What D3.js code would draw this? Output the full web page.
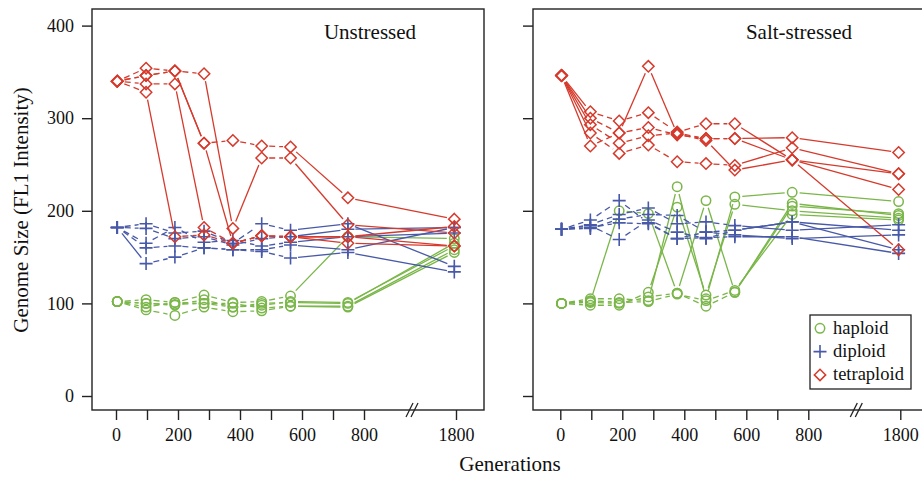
<!DOCTYPE html>
<html><head><meta charset="utf-8">
<script src="https://cdn.jsdelivr.net/npm/d3@7"></script>
<style>html,body{margin:0;padding:0;background:#fff;}svg{display:block;font-family:"Liberation Serif","Times New Roman",serif;}</style>
</head><body>
<svg id="chart" width="922" height="477"></svg>
<script>
const generations = [4, 97, 190, 284, 377, 470, 563, 748, 1775];
const xTickValues = [0, 100, 200, 300, 400, 500, 600, 700, 800, 1800];
const xTickLabels = ["0", "", "200", "", "400", "", "600", "", "800", "1800"];
const yTickValues = [0, 100, 200, 300, 400];
const panelTitles = ["Unstressed", "Salt-stressed"];
const legendLabels = ["haploid", "diploid", "tetraploid"];

// Unstressed
const unstressedHaploid = [
  [102, 104, 101, 109, 101, 102, 108, 172, 170],
  [102, 100, 98, 104, 96, 98, 102, 101, 162],
  [102, 96, 101, 100, 100, 95, 97, 97, 158],
  [102, 93, 87, 96, 91, 92, 97, 96, 155],
  [102, 100, 99, 100, 96, 100, 101, 100, 165]
];
const unstressedDiploid = [
  [182, 186, 176, 178, 165, 186, 179, 186, 140],
  [182, 181, 170, 172, 163, 170, 172, 180, 182],
  [182, 165, 182, 166, 168, 162, 166, 172, 176],
  [182, 160, 162, 160, 158, 158, 163, 158, 182],
  [182, 143, 150, 160, 158, 156, 149, 155, 134]
];
const unstressedTetraploid = [
  [340, 328, 172, 174, 165, 173, 172, 172, 162],
  [340, 354, 351, 348, 181, 257, 257, 185, 176],
  [340, 346, 351, 273, 276, 270, 269, 214, 191],
  [340, 346, 351, 273, 165, 173, 172, 165, 162],
  [340, 337, 337, 182, 165, 173, 172, 172, 183]
];
// Salt-stressed
const saltHaploid = [
  [100, 102, 200, 197, 111, 211, 112, 205, 197],
  [100, 105, 105, 103, 226, 105, 215, 220, 210],
  [100, 98, 98, 112, 204, 109, 207, 200, 192],
  [100, 101, 100, 107, 111, 97, 112, 208, 195],
  [100, 103, 101, 102, 110, 103, 114, 196, 190]
];
const saltDiploid = [
  [180, 190, 211, 187, 170, 177, 179, 188, 158],
  [180, 185, 196, 203, 186, 188, 184, 179, 185],
  [180, 181, 191, 196, 195, 177, 174, 170, 174],
  [180, 184, 169, 190, 177, 170, 179, 188, 179],
  [180, 182, 187, 186, 170, 171, 172, 172, 154]
];
const saltTetraploid = [
  [346, 307, 297, 306, 285, 294, 294, 255, 240],
  [346, 300, 284, 290, 282, 278, 278, 279, 263],
  [346, 293, 273, 281, 284, 278, 278, 255, 223],
  [346, 284, 262, 271, 253, 251, 249, 268, 240],
  [346, 270, 284, 356, 283, 276, 244, 255, 158]
];

const colors = {haploid: "#7ab648", diploid: "#4759a8", tetraploid: "#d63a2c"};
const ink = "#222";

const svg = d3.select("#chart");
const y = d3.scaleLinear().domain([0, 400]).range([396, 25.6]);

const panels = [
  {title: panelTitles[0], left: 92, x0: 116, labels: true, data: [unstressedHaploid, unstressedDiploid, unstressedTetraploid], titleX: 370},
  {title: panelTitles[1], left: 533, x0: 560.3, labels: false, data: [saltHaploid, saltDiploid, saltTetraploid], titleX: 799}
];
const kinds = ["haploid", "diploid", "tetraploid"];
const boxTop = 9, boxBottom = 410, boxWidth = 392;

function drawMarker(g, kind, cx, cy, color) {
  if (kind === "haploid") {
    g.append("circle").attr("cx", cx).attr("cy", cy).attr("r", 4.7)
      .attr("fill", "none").attr("stroke", color).attr("stroke-width", 1.5);
  } else if (kind === "diploid") {
    g.append("path").attr("d", `M${cx-6.5},${cy}H${cx+6.5}M${cx},${cy-6.5}V${cy+6.5}`)
      .attr("stroke", color).attr("stroke-width", 1.6).attr("fill", "none");
  } else {
    const s = 5.7;
    g.append("path").attr("d", `M${cx},${cy-s}L${cx+s},${cy}L${cx},${cy+s}L${cx-s},${cy}Z`)
      .attr("stroke", color).attr("stroke-width", 1.5).attr("fill", "none");
  }
}

panels.forEach(p => {
  const x = d3.scaleLinear().domain([0, 900, 1800, 1900]).range([p.x0, p.x0 + 279, p.x0 + 340, p.x0 + 371]);
  const g = svg.append("g");
  // frame
  g.append("rect").attr("x", p.left).attr("y", boxTop).attr("width", boxWidth).attr("height", boxBottom - boxTop)
    .attr("fill", "none").attr("stroke", ink).attr("stroke-width", 1.4);
  // y axis
  const ya = g.append("g").attr("transform", `translate(${p.left},0)`)
    .call(d3.axisLeft(y).tickValues(yTickValues).tickSize(10).tickPadding(8).tickFormat(p.labels ? d3.format("d") : () => ""));
  ya.select(".domain").remove();
  ya.selectAll(".tick line").attr("stroke", ink).attr("stroke-width", 1.4);
  ya.selectAll(".tick text").attr("fill", "#111").style("font-size", "18px").style("font-family", "Liberation Serif");
  // x axis
  const xa = g.append("g").attr("transform", `translate(0,${boxBottom})`)
    .call(d3.axisBottom(x).tickValues(xTickValues).tickSize(10).tickPadding(8)
      .tickFormat((d, i) => xTickLabels[i]));
  xa.select(".domain").remove();
  xa.selectAll(".tick line").attr("stroke", ink).attr("stroke-width", 1.4);
  xa.selectAll(".tick text").attr("fill", "#111").style("font-size", "18px").style("font-family", "Liberation Serif");
  // axis break
  const bx = p.x0 + 296;
  [-2.5, 2.5].forEach(o => {
    g.append("line").attr("x1", bx + o - 3.5).attr("y1", boxBottom + 7).attr("x2", bx + o + 3.5).attr("y2", boxBottom - 7)
      .attr("stroke", ink).attr("stroke-width", 1.3);
  });
  // title
  g.append("text").attr("x", p.titleX).attr("y", 39).attr("text-anchor", "middle")
    .style("font-size", "21px").attr("fill", "#111").text(p.title);

  // series
  p.data.forEach((reps, k) => {
    const kind = kinds[k], color = colors[kind];
    const lg = g.append("g");
    reps.forEach(vals => {
      for (let i = 0; i < vals.length - 1; i++) {
        const x1 = x(generations[i]), y1 = y(vals[i]);
        const x2 = x(generations[i + 1]), y2 = y(vals[i + 1]);
        const dx = x2 - x1, dy = y2 - y1, len = Math.hypot(dx, dy);
        const gap = 7.5;
        if (len <= 2 * gap + 1) continue;
        const ux = dx / len, uy = dy / len;
        const dashed = (generations[i + 1] - generations[i] < 150) && Math.abs(vals[i + 1] - vals[i]) < 25;
        lg.append("line")
          .attr("x1", x1 + ux * gap).attr("y1", y1 + uy * gap)
          .attr("x2", x2 - ux * gap).attr("y2", y2 - uy * gap)
          .attr("stroke", color).attr("stroke-width", 1.3)
          .attr("stroke-dasharray", dashed ? "6,4" : null);
      }
    });
    const mg = g.append("g");
    reps.forEach(vals => {
      vals.forEach((v, i) => drawMarker(mg, kind, x(generations[i]), y(v), color));
    });
  });
});

// axis labels
svg.append("text").attr("transform", "translate(28,210) rotate(-90)").attr("text-anchor", "middle")
  .style("font-size", "21px").attr("fill", "#111").text("Genome Size (FL1 Intensity)");
svg.append("text").attr("x", 510).attr("y", 471).attr("text-anchor", "middle")
  .style("font-size", "21px").attr("fill", "#111").text("Generations");

// legend
const leg = svg.append("g");
leg.append("rect").attr("x", 810).attr("y", 315).attr("width", 101).attr("height", 74)
  .attr("fill", "#fff").attr("stroke", ink).attr("stroke-width", 1.3);
legendLabels.forEach((lab, i) => {
  const cy = 328.3 + i * 23.3;
  drawMarker(leg, kinds[i], 820, cy, colors[kinds[i]]);
  leg.append("text").attr("x", 833).attr("y", cy + 5.5).style("font-size", "18.5px").attr("fill", "#111").text(lab);
});
</script>
</body></html>
